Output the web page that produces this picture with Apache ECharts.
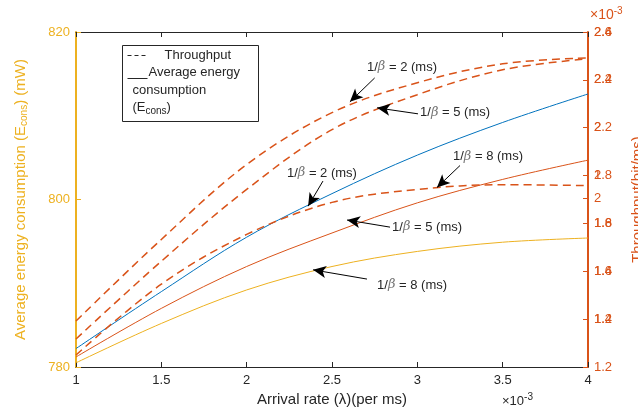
<!DOCTYPE html>
<html>
  <head>
    <meta charset="utf-8">
    <title>Energy / throughput</title>
    <script src="https://cdn.jsdelivr.net/npm/echarts@6/dist/echarts.min.js"></script>
    <style>
        *{
            padding: 0;
            margin: 0;
        }
        body{
            background-color: #ffffff;
        }
        #chart{
            width: 638px;
            height: 413px;
        }
    </style>
  </head>
  <body>
    <div id="chart"></div>
    <script type="text/javascript">
        // arrival rate, x 10^-3 per ms
        var arrival = [1, 1.5, 2, 2.5, 3, 3.5, 4];
        // average energy consumption (mW), solid lines
        var energyB2 = [782.2, 789.0, 795.5, 800.7, 805.3, 809.2, 812.6];
        var energyB5 = [781.2, 787.0, 792.0, 796.0, 799.6, 802.4, 804.7];
        var energyB8 = [780.5, 785.2, 789.2, 792.0, 793.8, 794.9, 795.4];
        // throughput (x 10^-3 bit/ms), dashed lines
        var thrB2 = [1.392, 1.733, 2.046, 2.263, 2.388, 2.467, 2.492];
        var thrB5 = [1.317, 1.642, 1.942, 2.192, 2.338, 2.442, 2.488];
        var thrB8 = [1.25, 1.546, 1.754, 1.888, 1.942, 1.962, 1.958];
        var xTicks = [1, 1.5, 2, 2.5, 3, 3.5, 4];
        var leftTicks = [780, 800, 820];

        var blue = '#0072BD';
        var red = '#D95319';
        var yellow = '#EDB120';
        var dark = '#262626';
        var font = '"Liberation Sans", Arial, sans-serif';

        function pairs(ys) {
            return arrival.map(function (x, i) { return [x, ys[i]]; });
        }

        // arrow + label annotation: [textX, textY, fromX, fromY, toX, toY, text]
        function note(a) {
            return {
                markPoint: {
                    symbol: 'circle', symbolSize: 0, silent: true,
                    label: {
                        show: true, position: 'right', distance: 0, color: dark,
                        fontFamily: font, fontSize: 13,
                        formatter: a[6],
                        rich: { b: { fontFamily: 'DejaVu Serif', fontStyle: 'italic', color: '#777', fontSize: 13 } }
                    },
                    data: [{ coord: [a[0], a[1]] }]
                },
                markLine: {
                    silent: true, symbol: ['none', 'arrow'], symbolSize: [9, 13],
                    lineStyle: { color: '#000', width: 1, type: 'solid' },
                    label: { show: false },
                    data: [[{ coord: [a[2], a[3]] }, { coord: [a[4], a[5]] }]]
                }
            };
        }

        function line(name, ys, yIdx, color, dashed, ann) {
            var s = {
                name: name, type: 'line', data: pairs(ys), yAxisIndex: yIdx,
                smooth: 0.35, symbol: 'none',
                lineStyle: { color: color, width: dashed ? 1.5 : 1, type: dashed ? [8, 5] : 'solid' },
                z: 3
            };
            if (ann) {
                var n = note(ann);
                s.markPoint = n.markPoint;
                s.markLine = n.markLine;
            }
            return s;
        }

        var myChart = echarts.init(document.getElementById('chart'));
        var option = {
            animation: false,
            grid: { left: 76, right: 50, top: 32, bottom: 46, containLabel: false, outerBoundsMode: 'none' },
            xAxis: [{
                type: 'value', min: xTicks[0], max: xTicks[xTicks.length - 1], interval: 0.5,
                name: 'Arrival rate (λ)(per ms)', nameLocation: 'middle', nameGap: 20,
                nameTextStyle: { color: dark, fontSize: 15, fontFamily: font },
                axisLine: { lineStyle: { color: dark } },
                axisTick: { inside: true, length: 5, lineStyle: { color: dark } },
                axisLabel: { color: dark, fontSize: 13, fontFamily: font, margin: 7 },
                splitLine: { show: false }
            }, {
                type: 'value', min: 1, max: 4, interval: 0.5, position: 'top',
                axisLine: { lineStyle: { color: dark } },
                axisTick: { inside: true, length: 5, lineStyle: { color: dark } },
                axisLabel: { show: false },
                splitLine: { show: false }
            }],
            yAxis: [{
                type: 'value', min: leftTicks[0], max: leftTicks[2], interval: 20,
                name: '{a|Average energy consumption (E}{s|cons}{a|) (mW)}',
                nameLocation: 'middle', nameGap: 48,
                nameTextStyle: {
                    color: yellow, fontFamily: font,
                    rich: {
                        a: { color: yellow, fontSize: 15, fontFamily: font },
                        s: { color: yellow, fontSize: 10, fontFamily: font, padding: [0, 0, -8, 0] }
                    }
                },
                axisLine: { lineStyle: { color: yellow, width: 2 } },
                axisTick: { inside: true, length: 5, lineStyle: { color: yellow } },
                axisLabel: { color: yellow, fontSize: 13, fontFamily: font, margin: 6 },
                splitLine: { show: false }
            }, {
                type: 'value', min: 1.2, max: 2.6, interval: 0.2, position: 'right',
                name: 'Throughput(bit/ms)', nameLocation: 'middle', nameGap: 42, nameRotate: 90,
                nameTextStyle: { color: red, fontSize: 15, fontFamily: font },
                axisLine: { lineStyle: { color: red, width: 2 } },
                axisTick: { inside: true, length: 5, lineStyle: { color: red } },
                axisLabel: { color: red, fontSize: 13, fontFamily: font, margin: 6 },
                splitLine: { show: false }
            }, {
                type: 'value', min: 1.0, max: 2.4, interval: 0.2, position: 'right',
                axisLine: { show: false },
                axisTick: { show: false },
                axisLabel: {
                    color: red, fontSize: 13, fontFamily: font, margin: 6,
                    formatter: function (v) { return v < 1.1 ? '' : String(+v.toFixed(1)); }
                },
                splitLine: { show: false }
            }, {
                type: 'value', min: 1.2, max: 2.6, position: 'right',
                axisLine: { show: false },
                axisTick: { show: true, inside: true, length: 5, lineStyle: { color: red }, customValues: [1.905] },
                axisLabel: { color: red, fontSize: 13, fontFamily: font, margin: 6, customValues: [1.905], formatter: function () { return '2'; } },
                splitLine: { show: false }
            }],
            graphic: [
                {
                    type: 'text', left: 590, top: 6,
                    style: { text: '{a|×10}{s|-3}', fill: red,
                        rich: { a: { fill: red, fontSize: 14, fontFamily: font }, s: { fill: red, fontSize: 10, fontFamily: font, padding: [0, 0, 8, 0] } } }
                },
                {
                    type: 'text', left: 502, top: 392,
                    style: { text: '{a|×10}{s|-3}', fill: dark,
                        rich: { a: { fill: dark, fontSize: 13, fontFamily: font }, s: { fill: dark, fontSize: 10, fontFamily: font, padding: [0, 0, 8, 0] } } }
                },
                {
                    type: 'group', left: 122, top: 45,
                    children: [
                        { type: 'rect', shape: { x: 0, y: 0, width: 136, height: 76 }, style: { fill: '#fff', stroke: dark, lineWidth: 1 } },
                        { type: 'line', shape: { x1: 5, y1: 10, x2: 25, y2: 10 }, style: { stroke: dark, lineWidth: 1, lineDash: [4, 3] } },
                        { type: 'text', x: 42, y: 10, style: { text: 'Throughput', fill: dark, font: '13px ' + font, verticalAlign: 'middle' } },
                        { type: 'line', shape: { x1: 5, y1: 33, x2: 25, y2: 33 }, style: { stroke: dark, lineWidth: 1 } },
                        { type: 'text', x: 26, y: 27, style: { text: 'Average energy', fill: dark, font: '13px ' + font, verticalAlign: 'middle' } },
                        { type: 'text', x: 10, y: 45, style: { text: 'consumption', fill: dark, font: '13px ' + font, verticalAlign: 'middle' } },
                        { type: 'text', x: 10, y: 62, style: { text: '{a|(E}{s|cons}{a|)}', verticalAlign: 'middle',
                            rich: { a: { fill: dark, fontSize: 13, fontFamily: font }, s: { fill: dark, fontSize: 10, fontFamily: font, padding: [0, 0, -8, 0] } } } }
                    ]
                }
            ],
            series: [
                line('E 1/β=2', energyB2, 0, blue, false, [2.236, 803.16, 2.447, 802.2, 2.36, 799.2, '1/{b|β} = 2 (ms)']),
                line('E 1/β=5', energyB5, 0, red, false, [2.852, 796.72, 2.84, 796.7, 2.588, 797.55, '1/{b|β} = 5 (ms)']),
                line('E 1/β=8', energyB8, 0, yellow, false, [2.764, 789.79, 2.705, 790.5, 2.389, 791.6, '1/{b|β} = 8 (ms)']),
                line('T 1/β=2', thrB2, 1, red, true, [2.705, 2.454, 2.75, 2.408, 2.605, 2.308, '1/{b|β} = 2 (ms)']),
                line('T 1/β=5', thrB5, 1, red, true, [3.016, 2.2625, 3.004, 2.258, 2.764, 2.283, '1/{b|β} = 5 (ms)']),
                line('T 1/β=8', thrB8, 1, red, true, [3.209, 2.079, 3.25, 2.042, 3.115, 1.95, '1/{b|β} = 8 (ms)'])
            ]
        };
        myChart.setOption(option);
    </script>
  </body>
</html>
